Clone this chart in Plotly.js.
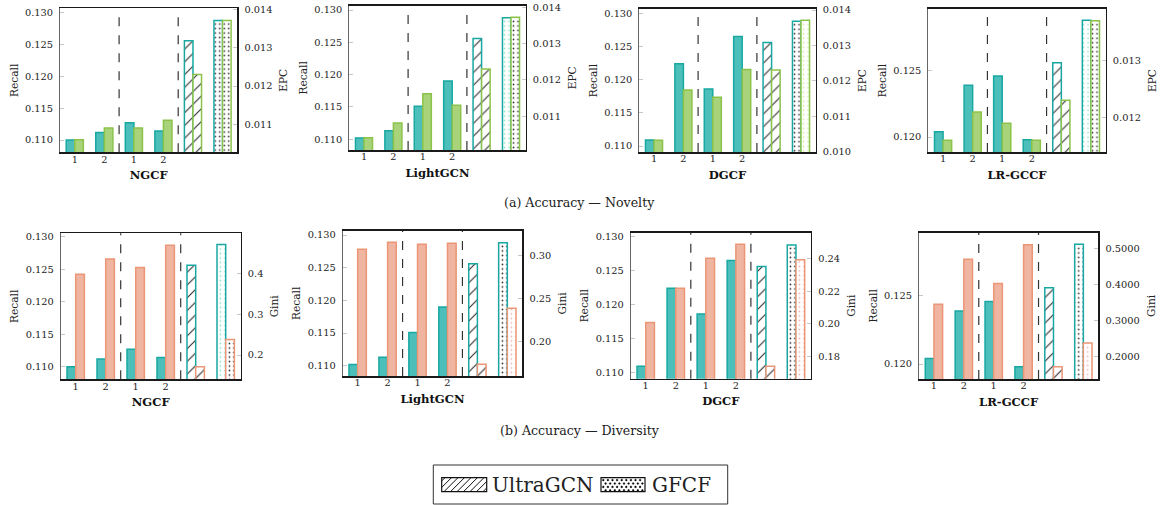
<!DOCTYPE html>
<html>
<head>
<meta charset="utf-8">
<script src="https://cdn.plot.ly/plotly-3.0.1.min.js"></script>
<style>
  html, body { margin: 0; padding: 0; background: #fff; }
  #chart { width: 1163px; height: 505px; }
</style>
</head>
<body>
<div id="chart"></div>
<script>
// Bars per model: variant 1/2 (first block), variant 1/2 (second block), UltraGCN, GFCF
const groupTicks = ["1", "2", "1", "2"];
const models = ["NGCF", "LightGCN", "DGCF", "LR-GCCF"];
const baselines = ["UltraGCN", "GFCF"];

const recallNGCF     = [0.1100, 0.1112, 0.1127, 0.1114, 0.1256, 0.1288];
const recallLightGCN = [0.1102, 0.1113, 0.1151, 0.1190, 0.1256, 0.1288];
const recallDGCF     = [0.1109, 0.1224, 0.1186, 0.1265, 0.1256, 0.1288];
const recallLRGCCF   = [0.1204, 0.1239, 0.1246, 0.1198, 0.1256, 0.1288];

const epcNGCF     = [0.01059, 0.01090, 0.01090, 0.01110, 0.01230, 0.01372];
const epcLightGCN = [0.01041, 0.01081, 0.01162, 0.01130, 0.01230, 0.01372];
const epcDGCF     = [0.01032, 0.01174, 0.01154, 0.01232, 0.01231, 0.01371];
const epcLRGCCF   = [0.01159, 0.01209, 0.01189, 0.01159, 0.01230, 0.01371];

const giniNGCF     = [0.398, 0.435, 0.414, 0.469, 0.171, 0.238];
const giniLightGCN = [0.3078, 0.3160, 0.3137, 0.3149, 0.1736, 0.2391];
const giniDGCF     = [0.2009, 0.2219, 0.2404, 0.2491, 0.1738, 0.2396];
const giniLRGCCF   = [0.3454, 0.4700, 0.4028, 0.5100, 0.1723, 0.2380];

const W = 1163, H = 505;
const FONT = "DejaVu Serif";
const TICK_SIZE = 9.8, TITLE_SIZE = 10.6, MODEL_SIZE = 11.6;

const TEAL = { fill: "#4dbfbb", line: "#17a8a2", light: "#86e6cc" };
const GREEN = { fill: "#a9d37a", line: "#8bc34a", light: "#c9f28f" };
const ORANGE = { fill: "#f0b5a0", line: "#ea9677", light: "#f7b3ab" };
const DARK = "#2a2a2a";

// Panel frames (pixel boxes: left, top, right, bottom) and axis settings
const panels = [
  { model: models[0], recall: recallNGCF, other: epcNGCF, otherName: "EPC", col: GREEN,
    box: [60, 8.3, 237.3, 152.3], yl: [0.10807, 0.1307], yr: [0.01026, 0.01404],
    rdt: 0.001, rfmt: ".3f", dots: [DARK, DARK] },
  { model: models[1], recall: recallLightGCN, other: epcLightGCN, otherName: "EPC", col: GREEN,
    box: [349.3, 5.7, 525.7, 150], yl: [0.10834, 0.13067], yr: [0.01007, 0.01404],
    rdt: 0.001, rfmt: ".3f", dots: ["light", DARK] },
  { model: models[2], recall: recallDGCF, other: epcDGCF, otherName: "EPC", col: GREEN,
    box: [639.3, 9, 815.7, 152], yl: [0.1091, 0.13065], yr: [0.00999, 0.01403],
    rdt: 0.001, rfmt: ".3f", dots: [DARK, "light"] },
  { model: models[3], recall: recallLRGCCF, other: epcLRGCCF, otherName: "EPC", col: GREEN,
    box: [928.3, 9, 1105.7, 152], yl: [0.11887, 0.12965], yr: [0.01138, 0.01392],
    rdt: 0.001, rfmt: ".3f", dots: ["light", DARK] },
  { model: models[0], recall: recallNGCF, other: giniNGCF, otherName: "Gini", col: ORANGE,
    box: [60.7, 233.3, 240.7, 379.3], yl: [0.10806, 0.13052], yr: [0.1405, 0.498],
    rdt: 0.1, rfmt: ".1f", dots: ["light", DARK] },
  { model: models[1], recall: recallLightGCN, other: giniLightGCN, otherName: "Gini", col: ORANGE,
    box: [342.7, 230.7, 522.3, 376], yl: [0.10843, 0.13066], yr: [0.160, 0.3295],
    rdt: 0.05, rfmt: ".2f", dots: [DARK, "light"] },
  { model: models[2], recall: recallDGCF, other: giniDGCF, otherName: "Gini", col: ORANGE,
    box: [630.7, 232.7, 811, 378.7], yl: [0.10906, 0.1306], yr: [0.1662, 0.2562],
    rdt: 0.02, rfmt: ".2f", dots: [DARK, "light"] },
  { model: models[3], recall: recallLRGCCF, other: giniLRGCCF, otherName: "Gini", col: ORANGE,
    box: [919, 232.7, 1098.3, 379], yl: [0.1189, 0.12965], yr: [0.1382, 0.5432],
    rdt: 0.1, rfmt: ".4f", dots: [DARK, "light"] }
];

const px = x => x / W;
const py = y => 1 - y / H;
const axRef = (letter, n) => (n === 1 ? letter : letter + n);
const axKey = (letter, n) => (n === 1 ? letter + "axis" : letter + "axis" + n);

const BAR_W = 0.29;
const NV = groupTicks.length;   // number of variant bars before the baselines

// one bar trace for a slice [from, to) of a metric series
function barTrace(values, from, to, color, pattern, side, xr, yr, name) {
  const xs = [], ys = [];
  for (let i = from; i < to; i++) { xs.push(i); ys.push(values[i]); }
  const marker = { color: pattern ? "white" : color.fill, line: { color: color.line, width: 1.5 } };
  if (pattern) marker.pattern = pattern;
  return {
    type: "bar", name: name, x: xs, y: ys, xaxis: xr, yaxis: yr,
    width: BAR_W, offset: side === "left" ? -BAR_W : 0,
    marker: marker, showlegend: false, hoverinfo: "y"
  };
}

const hatch = () => ({ shape: "/", fgcolor: DARK, bgcolor: "white", size: 9, solidity: 0.12, fillmode: "replace" });
const dotted = c => ({ shape: ".", fgcolor: c, bgcolor: "white", size: 4.5, solidity: 0.11, fillmode: "replace" });

const data = [];
const layout = {
  width: W, height: H,
  margin: { l: 0, r: 0, t: 0, b: 0 },
  paper_bgcolor: "white",
  plot_bgcolor: "white",
  font: { family: FONT, size: TICK_SIZE, color: "#222" },
  showlegend: false,
  shapes: [],
  annotations: []
};

panels.forEach((p, k) => {
  const xn = k + 1, yln = 2 * k + 1, yrn = 2 * k + 2;
  const [l, t, r, b] = p.box;
  const xr = axRef("x", xn), ylr = axRef("y", yln), yrr = axRef("y", yrn);
  const dotL = p.dots[0] === "light" ? TEAL.light : DARK;
  const dotR = p.dots[1] === "light" ? p.col.light : DARK;

  data.push(barTrace(p.recall, 0, NV, TEAL, null, "left", xr, ylr, "Recall"));
  data.push(barTrace(p.recall, NV, NV + 1, TEAL, hatch(), "left", xr, ylr, baselines[0]));
  data.push(barTrace(p.recall, NV + 1, NV + 2, TEAL, dotted(dotL), "left", xr, ylr, baselines[1]));
  data.push(barTrace(p.other, 0, NV, p.col, null, "right", xr, yrr, p.otherName));
  data.push(barTrace(p.other, NV, NV + 1, p.col, hatch(), "right", xr, yrr, baselines[0]));
  data.push(barTrace(p.other, NV + 1, NV + 2, p.col, dotted(dotR), "right", xr, yrr, baselines[1]));

  layout[axKey("x", xn)] = {
    domain: [px(l), px(r)],
    anchor: ylr,
    range: [-0.5, 5.5],
    tickmode: "array",
    tickvals: groupTicks.map((_, i) => i),
    ticktext: groupTicks,
    ticks: "",
    ticklabelstandoff: -3,
    showgrid: false, zeroline: false,
    showline: true, mirror: true, linecolor: "#1a1a1a", linewidth: 1.6,
    tickfont: { family: FONT, size: TICK_SIZE, color: "#222" },
    title: { text: "<b>" + p.model + "</b>", font: { family: FONT, size: MODEL_SIZE, color: "#111" }, standoff: 7 }
  };
  layout[axKey("y", yln)] = {
    domain: [py(b), py(t)],
    anchor: xr,
    range: p.yl,
    dtick: 0.005,
    tick0: 0,
    tickformat: ".3f",
    ticks: "inside", ticklen: 4, tickcolor: "#c8c8c8",
    ticklabelstandoff: 4,
    showgrid: false, zeroline: false,
    showline: true, linecolor: "#666", linewidth: 1,
    tickfont: { family: FONT, size: TICK_SIZE, color: "#222" },
    title: { text: "Recall", font: { family: FONT, size: TITLE_SIZE, color: "#222" }, standoff: 4 }
  };
  layout[axKey("y", yrn)] = {
    overlaying: ylr,
    anchor: xr,
    side: "right",
    range: p.yr,
    dtick: p.rdt,
    tick0: 0,
    tickformat: p.rfmt,
    ticks: "inside", ticklen: 4, tickcolor: "#c8c8c8",
    ticklabelstandoff: 4,
    showgrid: false, zeroline: false,
    showline: true, linecolor: "#1a1a1a", linewidth: 1.2,
    tickfont: { family: FONT, size: TICK_SIZE, color: "#222" },
    title: { text: p.otherName, font: { family: FONT, size: TITLE_SIZE, color: "#222" }, standoff: 8 }
  };

  // dashed separators between the variant blocks and the baselines
  [1.5, 3.5].forEach(xv => {
    layout.shapes.push({
      type: "line", xref: xr, yref: ylr + " domain",
      x0: xv, x1: xv, y0: 0, y1: 1,
      line: { color: "#333", width: 1.2, dash: "dash" }, layer: "above"
    });
  });
});

// sub-figure captions
layout.annotations.push(
  { xref: "paper", yref: "paper", x: px(579), y: py(202), text: "(a) Accuracy — Novelty",
    showarrow: false, xanchor: "center", yanchor: "middle", font: { family: FONT, size: 12.6, color: "#222" } },
  { xref: "paper", yref: "paper", x: px(580), y: py(430), text: "(b) Accuracy — Diversity",
    showarrow: false, xanchor: "center", yanchor: "middle", font: { family: FONT, size: 12.6, color: "#222" } }
);

// legend box with hatched / dotted swatches
const LB = [433.3, 465, 727.7, 504];
layout.shapes.push({ type: "rect", xref: "paper", yref: "paper",
  x0: px(LB[0]), x1: px(LB[2]), y0: py(LB[3]), y1: py(LB[1]),
  line: { color: "#333", width: 1 }, fillcolor: "rgba(0,0,0,0)" });

function hatchSwatch(x0, y0, x1, y1, step) {
  for (let c = x0 + y0 + step / 2; c < x1 + y1; c += step) {
    let sx = c - y1, sy = y1;
    if (sx < x0) { sx = x0; sy = c - x0; }
    let ex = c - y0, ey = y0;
    if (ex > x1) { ex = x1; ey = c - x1; }
    if (ex - sx < 0.5) continue;
    layout.shapes.push({ type: "line", xref: "paper", yref: "paper",
      x0: px(sx), y0: py(sy), x1: px(ex), y1: py(ey), line: { color: "#111", width: 1 } });
  }
  layout.shapes.push({ type: "rect", xref: "paper", yref: "paper",
    x0: px(x0), x1: px(x1), y0: py(y1), y1: py(y0), line: { color: "#111", width: 1.2 } });
}

function dotSwatch(x0, y0, x1, y1, dx, dy, rad) {
  let row = 0;
  for (let y = y0 + dy * 0.7; y < y1 - 0.8; y += dy, row++) {
    for (let x = x0 + (row % 2 ? dx : dx / 2); x < x1 - 0.8; x += dx) {
      layout.shapes.push({ type: "circle", xref: "paper", yref: "paper",
        x0: px(x - rad), x1: px(x + rad), y0: py(y + rad), y1: py(y - rad),
        fillcolor: "#000", line: { color: "#000", width: 0.5 } });
    }
  }
  layout.shapes.push({ type: "rect", xref: "paper", yref: "paper",
    x0: px(x0), x1: px(x1), y0: py(y1), y1: py(y0), line: { color: "#111", width: 1.2 } });
}

hatchSwatch(441.7, 477.7, 486.7, 491.7, 6.5);
dotSwatch(601, 477.7, 645, 491.7, 4.6, 3.4, 0.85);

layout.annotations.push(
  { xref: "paper", yref: "paper", x: px(490), y: py(485), text: baselines[0],
    showarrow: false, xanchor: "left", yanchor: "middle", font: { family: FONT, size: 20, color: "#222" } },
  { xref: "paper", yref: "paper", x: px(650), y: py(485), text: baselines[1],
    showarrow: false, xanchor: "left", yanchor: "middle", font: { family: FONT, size: 20, color: "#222" } }
);

Plotly.newPlot("chart", data, layout, { displayModeBar: false, staticPlot: true });
</script>
</body>
</html>
